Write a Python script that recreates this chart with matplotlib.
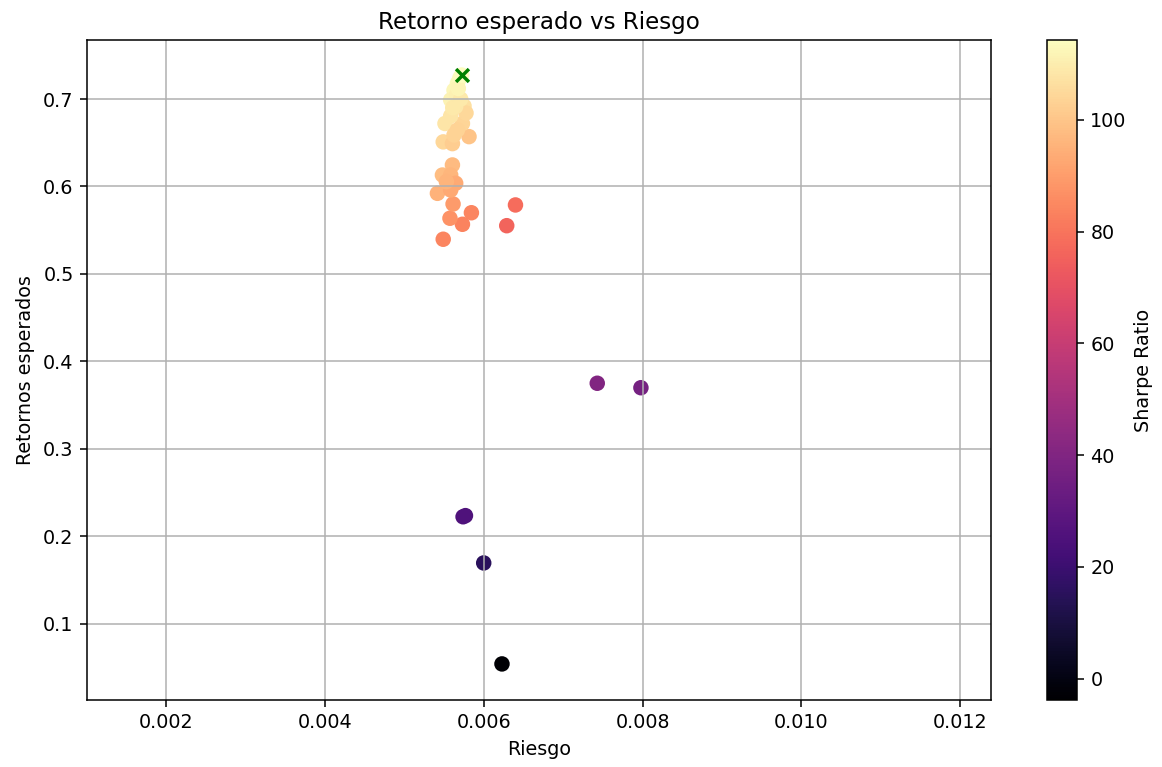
import matplotlib
matplotlib.use('Agg')
import matplotlib.pyplot as plt

# riesgo (x), retorno (y), sharpe (colour)
riesgo = [0.00623, 0.00600, 0.00577, 0.00574, 0.00743, 0.00798,
          0.00640, 0.00629, 0.005845, 0.005732, 0.005575, 0.005614, 0.00549,
          0.005606, 0.00548, 0.005584, 0.005647, 0.005417, 0.005584, 0.00553,
          0.005815, 0.00549, 0.005606, 0.005512, 0.005732, 0.005752, 0.005777,
          0.005669, 0.005626, 0.005584, 0.005647, 0.005584, 0.005669, 0.005626,
          0.00570, 0.00566, 0.00571, 0.00561, 0.00568]
retorno = [0.0543, 0.1697, 0.2238, 0.2225, 0.3751, 0.3700,
           0.5789, 0.5552, 0.570, 0.5568, 0.5637, 0.580, 0.5397,
           0.6246, 0.6131, 0.6131, 0.6037, 0.5922, 0.596, 0.6055,
           0.657, 0.651, 0.649, 0.672, 0.672, 0.692, 0.684,
           0.718, 0.710, 0.699, 0.6913, 0.6806, 0.6646, 0.6589,
           0.724, 0.705, 0.700, 0.690, 0.712]
sharpe = [-3.8, 15.4, 25.4, 25.3, 40.1, 36.7,
          78.3, 75.9, 84.3, 83.6, 87.2, 89.5, 84.2,
          97.6, 97.7, 95.9, 93.2, 95.0, 92.9, 95.5,
          99.7, 104.5, 101.9, 107.9, 103.7, 106.8, 105.0,
          113.0, 112.4, 111.3, 108.7, 108.0, 103.6, 103.3,
          113.4, 110.9, 109.0, 109.2, 111.7]

max_riesgo = 0.005723
max_retorno = 0.7274
max_sharpe = 114.3

DPI = 138
fig = plt.figure(figsize=(1162 / DPI, 767 / DPI), dpi=DPI)
ax = fig.add_axes([0.0749, 0.0874, 0.778, 0.8604])
cax = fig.add_axes([0.901, 0.0874, 0.0258, 0.8604])

sc = ax.scatter(riesgo + [max_riesgo], retorno + [max_retorno],
                c=sharpe + [max_sharpe], cmap='magma', s=50)
ax.scatter(max_riesgo, max_retorno, marker='x', color='green', s=45, linewidths=1.8)

cb = fig.colorbar(sc, cax=cax)
cb.set_label('Sharpe Ratio')

ax.set_xlim(0.001004, 0.01239)
ax.set_ylim(0.0131, 0.7674)
ax.set_xlabel('Riesgo')
ax.set_ylabel('Retornos esperados')
ax.set_title('Retorno esperado vs Riesgo')
ax.grid(True)

fig.savefig('out.png', dpi=DPI)
